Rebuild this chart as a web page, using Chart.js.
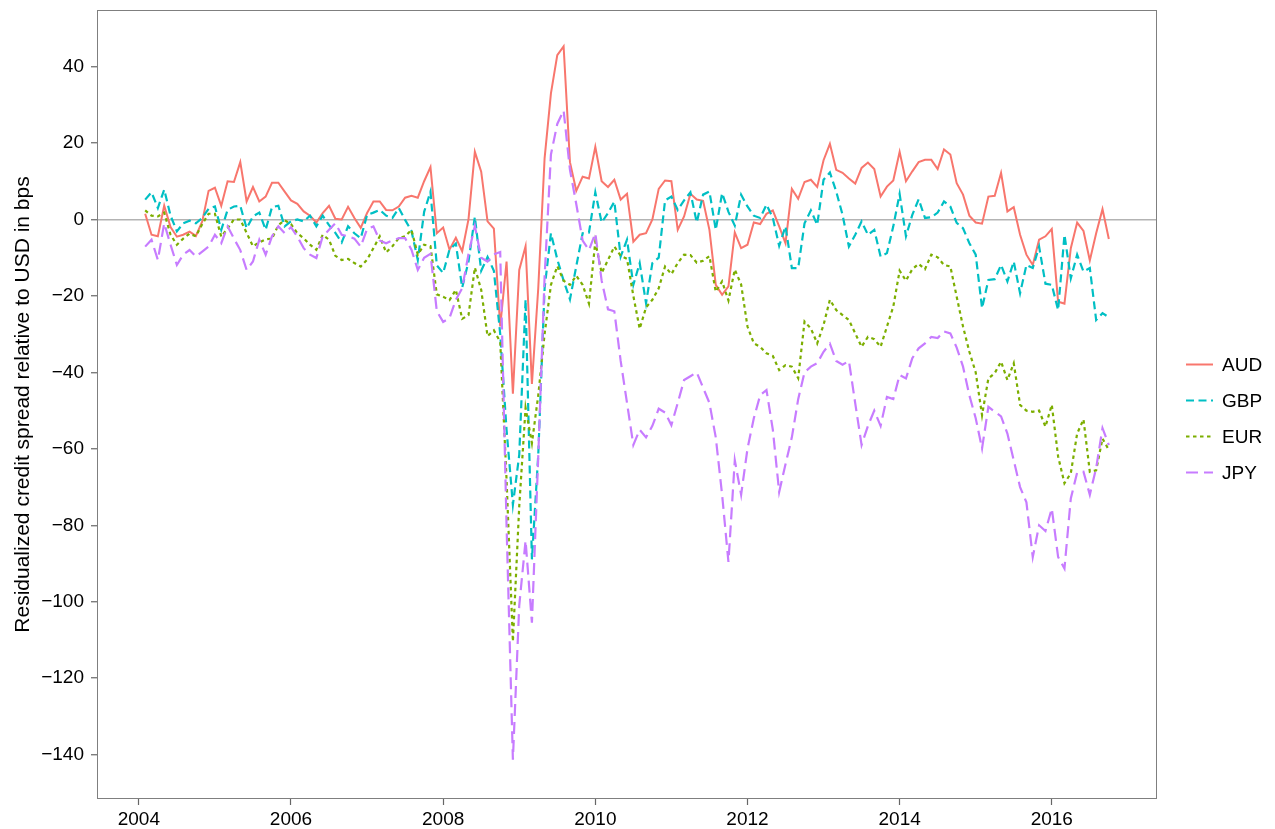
<!DOCTYPE html>
<html>
<head>
<meta charset="utf-8">
<script src="https://cdn.jsdelivr.net/npm/chart.js@4.4.1/dist/chart.umd.min.js"></script>
<style>
  html, body { margin: 0; padding: 0; background: #fff; }
  canvas { display: block; }
</style>
</head>
<body>
<canvas id="spreadChart" width="1275" height="829"></canvas>
<script>
// monthly observations, Feb 2004 .. Oct 2016
const startYear = 2004;
const startMonth = 2;

const currencies = ['AUD', 'GBP', 'EUR', 'JPY'];

const aud = [
    1.5, -4, -4.4, 3.6, -2, -4.5, -4, -3.2, -4.3, -0.5, 7.5,
    8.3, 3.6, 10, 9.8, 15, 4.7, 8.5, 4.7, 6, 9.6, 9.6, 7.3,
    5, 4.1, 2.1, 1, -0.8, 1.7, 3.6, 0.2, 0, 3.3, 0.4, -2.2,
    1.7, 4.7, 4.7, 2.5, 2.4, 3.4, 5.7, 6.2, 5.7, 10, 13.7, -3.6,
    -2.1, -7.9, -4.8, -8.3, 0.1, 17.7, 12.5, -0.5, -2.4, -28, -11, -45.6,
    -13.2, -7, -43, -18, 16, 33, 43, 45.3, 15, 7.5, 11.2, 10.7,
    19, 10, 8.5, 10.4, 5.2, 6.7, -5.8, -4, -3.6, 0, 8, 10.2,
    10, -2.7, 0.8, 6.7, 5.2, 4.9, -2.7, -17.1, -19.7, -17.5, -3.4, -7.5,
    -6.6, -0.8, -1.2, 1.5, 2.4, -1.8, -6.2, 8, 5.4, 9.8, 10.4, 8.5,
    15.5, 19.8, 13, 12.2, 10.7, 9.4, 13.5, 14.9, 13.2, 6, 8.6, 10.2,
    17.7, 10, 12.6, 15, 15.6, 15.6, 13.2, 18.3, 17, 9.5, 6.5, 1,
    -0.8, -1.1, 6, 6.2, 12.2, 2.1, 3.2, -4, -9.2, -11.9, -5.3, -4.4,
    -2.5, -21.5, -22, -7.5, -0.8, -3, -10.7, -3.6, 2.7, -5.1
];

const gbp = [
    5.2, 7.1, 3, 7.8, 1, -3.1, -1, -0.3, -1, 0.4, 2.8,
    3.4, -2.7, 2.5, 3.4, 3.6, -2.3, 0.8, 1.8, -2.7, 3.2, 3.6, -1.8,
    -0.5, 0, -0.5, 1, -1.8, 1, -1.5, -3.5, -6, -1.8, -3.6, -4.9,
    1.2, 1.8, 2.5, 1, 0.4, 3, -0.1, -3, -10.6, 2, 7.3, -12,
    -14, -7.9, -6.3, -17.8, -11, 0.7, -13.4, -9.8, -13.4, -30, -55, -74.6,
    -61.6, -20.9, -88.9, -61.6, -18, -3.6, -10.4, -16, -20.9, -12.2, -3.6, -3.4,
    7.1, -0.8, 1.7, 4.7, -9.7, -5.3, -17.1, -11.4, -21.9, -11.4, -10, 5,
    6, 2.5, 5, 7.1, -0.8, 6.5, 7.3, -2.7, 6.9, 2, -1.6, 6.5,
    3.4, 1, 0.4, 3.9, 0.4, -6.9, -1.8, -12.7, -12.7, -1, 2.4, -1.4,
    10.4, 12.3, 7.3, 1.2, -7.1, -4, -0.5, -4, -2.7, -9.7, -8.8, -1.8,
    6.7, -4.4, 1.2, 5.3, 0.4, 0.6, 1.8, 4.7, 3.4, -0.9, -2.3, -6.2,
    -9.2, -23.2, -15.8, -15.6, -11.9, -16.2, -11, -19.3, -11.9, -12.7, -7.1, -16.8,
    -17.1, -23.7, -4, -15.4, -9.2, -13.6, -12.7, -26.3, -24.5, -25.6
];

const eur = [
    2.4, 1, 0.8, 1.8, -4, -6.6, -5, -3.7, -4.4, -1.2, 1.5,
    1.5, -4.5, -2.3, 0, 0, -3.5, -7, -6, -5.2, -5, -1.5, -0.2,
    -1.2, -3.6, -4.9, -6.6, -7.9, -4, -5.3, -9.5, -10.6, -10.3, -11.4, -12.3,
    -10.5, -7.5, -4.4, -8.6, -7, -4.9, -4.4, -2.7, -9.2, -6.6, -7, -19.6,
    -20.2, -21.1, -18.4, -26, -25, -12.6, -18.4, -30.5, -29, -32, -68, -110.4,
    -75, -49.3, -58.5, -46, -30, -17.1, -12.2, -16, -17.1, -14.7, -17.1, -22,
    -5.8, -14, -10.6, -7.1, -9.5, -10.3, -20, -28.6, -23, -21, -18, -12.3,
    -14.3, -11.4, -9.2, -9.3, -11.3, -10.8, -9.6, -18.9, -16.2, -21.2, -13.1, -17,
    -28, -32.4, -33.3, -35, -35.7, -39.4, -38.1, -38.5, -41.5, -26.7, -28.5, -32.4,
    -27.6, -21, -23.7, -25, -26.3, -29.8, -33.3, -30.7, -31.3, -33.3, -28, -22.8,
    -13.4, -16, -13, -11.6, -13, -9.2, -9.9, -11.9, -12.3, -20.2, -28, -34.6,
    -40, -51.2, -41.6, -40.2, -37.2, -42, -37.6, -48.5, -50, -50.3, -50, -54.2,
    -48.5, -62, -69, -66.4, -56, -52.3, -66, -65.6, -57.3, -60.3
];

const jpy = [
    -7.1, -5.3, -10.6, -1, -6.6, -11.9, -9.2, -8, -9.7, -8.4, -7.1,
    -4, -6.2, -1.8, -5, -8, -13.2, -11, -5.3, -9.2, -4.4, -1.8, -3.6,
    -2, -4.5, -7.5, -9.2, -10.1, -4.4, -2.7, -1, -4, -4.4, -5, -7.1,
    -2.5, -1.8, -5.5, -6.2, -5.5, -4.9, -4.9, -7.9, -13.2, -10, -9, -24,
    -26.8, -25.8, -21, -18, -9, -1.7, -10, -11, -9.1, -8.5, -80, -141.3,
    -101, -84, -105.5, -62, -15, 17, 25, 28.5, 13, 4, -5.5, -8,
    -3.6, -16, -23.5, -24, -37, -48, -59, -55, -57, -54, -49.5, -50.5,
    -53.8, -48, -42, -41, -40, -44, -48, -57, -72, -89.6, -63, -72,
    -60, -52, -46, -44.6, -55, -71.3, -64, -57, -47, -40, -38.5, -37.6,
    -34.6, -32.5, -37, -38, -37, -48.1, -59, -54, -50, -54, -46.4, -47,
    -40.7, -41.6, -36.3, -33.7, -32.4, -30.7, -31, -29.3, -29.8, -33.5, -38.5, -46,
    -52, -59.9, -49, -50.3, -51.5, -56, -63, -70, -74, -88.3, -80, -81.5,
    -75.6, -88.3, -91.3, -73, -66.2, -66, -72, -65, -54.6, -59
];

const xTicks = [2004, 2006, 2008, 2010, 2012, 2014, 2016];
const yTicks = [-140, -120, -100, -80, -60, -40, -20, 0, 20, 40];

const colors = ['#F8766D', '#00BFC4', '#7CAE00', '#C77CFF'];
const dashes = [[], [8, 4.5], [3.5, 3.5], [12, 6]];
const widths = [2, 2.2, 2.2, 2.2];

const FONT = "'Liberation Sans', Arial, Helvetica, sans-serif";

// time axis in decimal years
const dates = aud.map((_, i) => startYear + (startMonth - 1 + i) / 12);

function toPoints(values) {
    return values.map((v, i) => ({ x: dates[i], y: v }));
}

// grey box around the panel
const panelFrame = {
    id: 'panelFrame',
    afterDatasetsDraw(chart) {
        const { ctx, chartArea: a } = chart;
        ctx.save();
        ctx.strokeStyle = '#7f7f7f';
        ctx.lineWidth = 1;
        ctx.strokeRect(a.left + 0.5, a.top + 0.5, a.right - a.left - 1, a.bottom - a.top - 1);
        ctx.restore();
    }
};

// ggplot style legend with line keys at the right
const lineLegend = {
    id: 'lineLegend',
    afterDraw(chart) {
        const ctx = chart.ctx;
        const x0 = 1186, x1 = 1213, firstY = 364.5, step = 36;
        ctx.save();
        chart.data.datasets.forEach((ds, i) => {
            const y = firstY + i * step;
            ctx.strokeStyle = ds.borderColor;
            ctx.lineWidth = ds.borderWidth;
            ctx.setLineDash(ds.borderDash);
            ctx.beginPath();
            ctx.moveTo(x0, y);
            ctx.lineTo(x1, y);
            ctx.stroke();
            ctx.setLineDash([]);
            ctx.fillStyle = '#000';
            ctx.font = '19px ' + FONT;
            ctx.textBaseline = 'middle';
            ctx.textAlign = 'left';
            ctx.fillText(ds.label, 1222, y + 1);
        });
        ctx.restore();
    }
};

const series = [aud, gbp, eur, jpy];

new Chart(document.getElementById('spreadChart'), {
    type: 'line',
    data: {
        datasets: currencies.map((c, i) => ({
            label: c,
            data: toPoints(series[i]),
            borderColor: colors[i],
            borderWidth: widths[i],
            borderDash: dashes[i],
            pointRadius: 0,
            tension: 0,
            fill: false,
            order: currencies.length - i
        }))
    },
    options: {
        responsive: false,
        animation: false,
        devicePixelRatio: 1,
        layout: { padding: { left: 0, right: 118, top: 10, bottom: 0 } },
        plugins: {
            legend: { display: false },
            tooltip: { enabled: false }
        },
        scales: {
            x: {
                type: 'linear',
                min: 2003.45,
                max: 2017.383,
                afterBuildTicks: s => { s.ticks = xTicks.map(v => ({ value: v })); },
                afterFit: s => { s.height = 30; s.paddingLeft = 0; s.paddingRight = 0; },
                border: { display: false },
                grid: {
                    drawOnChartArea: false,
                    tickLength: 6,
                    tickColor: '#666',
                    tickWidth: 1.2
                },
                ticks: {
                    color: '#000',
                    font: { family: FONT, size: 19 },
                    padding: 3,
                    maxRotation: 0,
                    autoSkip: false,
                    callback: v => String(v)
                }
            },
            y: {
                min: -151.6,
                max: 54.8,
                afterBuildTicks: s => { s.ticks = yTicks.map(v => ({ value: v })); },
                afterFit: s => { s.width = 97; s.paddingTop = 0; s.paddingBottom = 0; },
                border: { display: false },
                grid: {
                    color: c => (c.tick && c.tick.value === 0 ? '#b3b3b3' : 'rgba(0,0,0,0)'),
                    lineWidth: 1.5,
                    tickLength: 6,
                    tickColor: '#666',
                    tickWidth: 1.2
                },
                ticks: {
                    color: '#000',
                    font: { family: FONT, size: 19 },
                    padding: 7,
                    callback: v => String(v).replace('-', '\u2212')
                },
                title: {
                    display: true,
                    text: 'Residualized credit spread relative to USD in bps',
                    color: '#000',
                    font: { family: FONT, size: 21 },
                    padding: { top: 11, bottom: 0 }
                }
            }
        }
    },
    plugins: [panelFrame, lineLegend]
});
</script>
</body>
</html>
